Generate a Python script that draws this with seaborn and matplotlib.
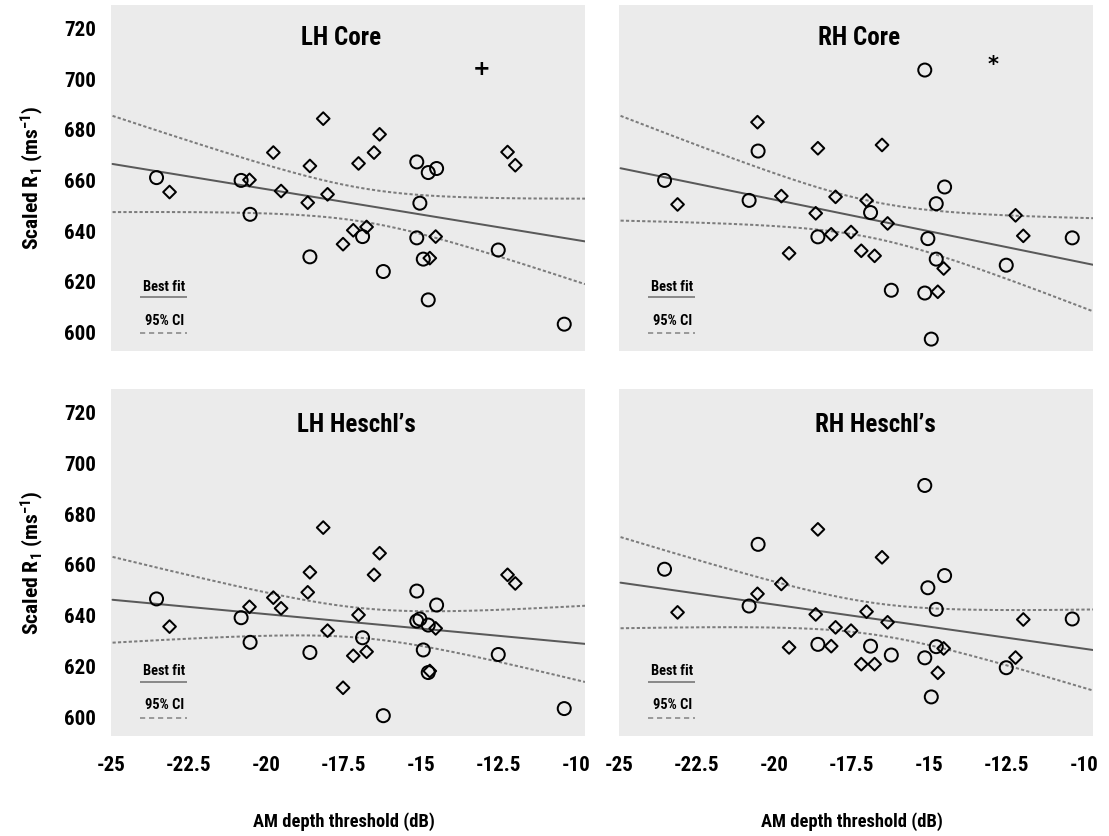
import numpy as np
import pandas as pd
import matplotlib
matplotlib.use("Agg")
import matplotlib.pyplot as plt
from matplotlib import font_manager
import seaborn as sns

# ---------------------------------------------------------------------------
# Data: AM depth threshold (dB) per participant (two participant groups)
# ---------------------------------------------------------------------------
circle_x = [-23.53, -20.80, -20.51, -18.58, -16.88, -16.21, -15.13, -15.13,
            -15.03, -14.92, -14.76, -14.76, -14.49, -12.50, -10.37]
diamond_x = [-23.11, -20.53, -19.76, -19.51, -18.65, -18.58, -18.15, -18.01,
             -17.51, -17.18, -17.01, -16.75, -16.51, -16.33, -14.71, -14.52,
             -12.20, -11.95]

# Scaled R1 (ms^-1) per region, same participant order as above
lh_core_circle = [661.1, 660.0, 646.6, 629.8, 637.8, 624.0, 667.3, 637.3,
                  651.0, 628.9, 663.1, 612.8, 664.7, 632.5, 603.2]
lh_core_diamond = [655.4, 660.2, 671.0, 655.8, 651.2, 665.7, 684.4, 654.5,
                   634.8, 640.3, 666.7, 641.6, 671.0, 678.2, 629.3, 637.8,
                   671.2, 666.0]

rh_core_circle = [660.0, 652.1, 671.6, 637.7, 647.3, 616.6, 703.6, 615.5,
                  637.0, 597.3, 650.8, 628.9, 657.4, 626.5, 637.3]
rh_core_diamond = [650.5, 683.0, 653.8, 631.2, 647.0, 672.7, 638.7, 653.5,
                   639.6, 632.2, 652.1, 630.2, 674.0, 643.0, 616.0, 625.2,
                   646.2, 638.1]

lh_heschl_circle = [646.6, 639.2, 629.5, 625.5, 631.3, 600.6, 649.7, 637.9,
                    638.7, 626.5, 636.3, 617.6, 644.2, 624.7, 603.4]
lh_heschl_diamond = [635.7, 643.5, 647.1, 642.9, 649.2, 657.1, 674.7, 634.1,
                     611.6, 624.2, 640.3, 625.8, 656.1, 664.6, 618.2, 635.0,
                     656.1, 652.7]

rh_heschl_circle = [658.3, 643.8, 668.1, 628.7, 628.0, 624.5, 691.3, 623.4,
                    651.0, 608.0, 642.5, 627.8, 655.8, 619.5, 638.7]
rh_heschl_diamond = [641.3, 648.6, 652.5, 627.5, 640.5, 674.0, 628.0, 635.4,
                     634.1, 620.9, 641.6, 620.9, 663.0, 637.4, 617.5, 627.1,
                     623.5, 638.5]

region_names = ["LH Core", "RH Core", "LH Heschl\u2019s", "RH Heschl\u2019s"]
circle_values = [lh_core_circle, rh_core_circle, lh_heschl_circle, rh_heschl_circle]
diamond_values = [lh_core_diamond, rh_core_diamond, lh_heschl_diamond, rh_heschl_diamond]

# significance symbols (symbol, x, y) per region
sig_marks = {"LH Core": ("+", -13.04, 704.2), "RH Core": ("*", -12.94, 705.5)}

x_ticks = [-25, -22.5, -20, -17.5, -15, -12.5, -10]
x_tick_labels = ["-25", "-22.5", "-20", "-17.5", "-15", "-12.5", "-10"]
y_ticks = [600, 620, 640, 660, 680, 700, 720]
y_tick_labels = ["600", "620", "640", "660", "680", "700", "720"]

x_label = "AM depth threshold (dB)"
y_label = "Scaled R$_1$ (ms$^{-1}$)"
legend_fit = "Best fit"
legend_ci = "95% CI"

# ---------------------------------------------------------------------------
# Styling
# ---------------------------------------------------------------------------
sns.set_theme(style="dark", rc={"axes.facecolor": "#ebebeb",
                                "figure.facecolor": "white"})

available = {f.name for f in font_manager.fontManager.ttflist}
FONT = None
for cand in ("Liberation Sans Narrow", "Roboto Condensed", "Open Sans Condensed",
             "Liberation Sans", "Roboto"):
    if cand in available:
        FONT = cand
        break
if FONT is None:
    FONT = "DejaVu Sans"
plt.rcParams["font.family"] = [FONT, "DejaVu Sans"]
plt.rcParams["font.weight"] = "bold"
plt.rcParams["mathtext.default"] = "regular"
plt.rcParams["axes.unicode_minus"] = False

W, H = 1109, 836
fig = plt.figure(figsize=(W / 100, H / 100), dpi=100)

# panel boxes in pixels: left, top, width, height
boxes = [(111, 5, 474, 346), (619, 5, 474, 346),
         (111, 389, 474, 347), (619, 389, 474, 347)]
title_xfrac = [0.485, 0.506, 0.518, 0.540]
title_yfrac = [0.905, 0.905, 0.896, 0.896]

XLIM = (-24.95, -9.70)
YLIM = (592.6, 729.3)

FIT_COLOR = "#595959"
CI_COLOR = "#7c7c7c"
PX = 0.72  # points per pixel at 100 dpi


def t_critical(df):
    try:
        from scipy import stats
        return float(stats.t.ppf(0.975, df))
    except Exception:
        return 2.04


def fit_with_band(x, y, grid):
    x = np.asarray(x, float)
    y = np.asarray(y, float)
    n = len(x)
    slope, intercept = np.polyfit(x, y, 1)
    resid = y - (intercept + slope * x)
    s = np.sqrt(np.sum(resid ** 2) / (n - 2))
    sxx = np.sum((x - x.mean()) ** 2)
    se = s * np.sqrt(1.0 / n + (grid - x.mean()) ** 2 / sxx)
    fit = intercept + slope * grid
    t = t_critical(n - 2)
    return fit, fit - t * se, fit + t * se


grid = np.linspace(XLIM[0], XLIM[1], 200)

for i, name in enumerate(region_names):
    l, t, w, h = boxes[i]
    ax = fig.add_axes([l / W, 1 - (t + h) / H, w / W, h / H])

    df = pd.DataFrame({
        "threshold": circle_x + diamond_x,
        "r1": circle_values[i] + diamond_values[i],
        "group": ["circle"] * len(circle_x) + ["diamond"] * len(diamond_x),
    })

    fit, lo, hi = fit_with_band(df["threshold"], df["r1"], grid)
    band = pd.DataFrame({"x": grid, "fit": fit, "lo": lo, "hi": hi})
    sns.lineplot(data=band, x="x", y="fit", ax=ax, color=FIT_COLOR,
                 lw=2 * PX, zorder=2)
    for col in ("lo", "hi"):
        sns.lineplot(data=band, x="x", y=col, ax=ax, color=CI_COLOR,
                     lw=2 * PX, zorder=2)
        ax.lines[-1].set_dashes((1.6, 1.1))

    circ = df[df["group"] == "circle"]
    diam = df[df["group"] == "diamond"]
    sns.scatterplot(data=circ, x="threshold", y="r1", ax=ax, marker="o",
                    s=(13 * PX) ** 2, facecolor="none", edgecolor="black",
                    linewidth=2 * PX, zorder=3)
    sns.scatterplot(data=diam, x="threshold", y="r1", ax=ax, marker="D",
                    s=(9 * PX) ** 2, facecolor="none", edgecolor="black",
                    linewidth=2 * PX, zorder=3)

    if name in sig_marks:
        sym, sx, sy = sig_marks[name]
        ax.text(sx, sy, sym, ha="center", va="center", fontsize=21 * PX,
                fontweight="bold", color="black", family=["DejaVu Sans"])

    ax.text(title_xfrac[i], title_yfrac[i], name, transform=ax.transAxes,
            ha="center", va="center", fontsize=25 * PX, fontweight="bold",
            color="black")

    # small key in the lower-left corner
    ax.text(0.113, 0.186, legend_fit, transform=ax.transAxes, ha="center",
            va="center", fontsize=14.5 * PX, fontweight="bold", color="black")
    ax.plot([0.061, 0.160], [0.157, 0.157], transform=ax.transAxes,
            color="#8a8a8a", lw=2 * PX, solid_capstyle="butt")
    ax.text(0.113, 0.088, legend_ci, transform=ax.transAxes, ha="center",
            va="center", fontsize=14.5 * PX, fontweight="bold", color="black")
    ax.plot([0.061, 0.160], [0.053, 0.053], transform=ax.transAxes,
            color="#9a9a9a", lw=2 * PX, dashes=(2.6, 1.9))

    ax.set_xlim(*XLIM)
    ax.set_ylim(*YLIM)
    ax.set_xticks(x_ticks)
    ax.set_yticks(y_ticks)
    ax.grid(False)
    for sp in ax.spines.values():
        sp.set_visible(False)
    ax.set_xlabel("")
    ax.set_ylabel("")

    if i >= 2:
        ax.set_xticklabels(x_tick_labels)
    else:
        ax.set_xticklabels([])
    if i % 2 == 0:
        ax.set_yticklabels(y_tick_labels)
    else:
        ax.set_yticklabels([])
    ax.tick_params(axis="x", length=0, pad=20 * PX, labelsize=21 * PX,
                   labelcolor="black")
    ax.tick_params(axis="y", length=0, pad=15 * PX, labelsize=21 * PX,
                   labelcolor="black")
    for lab in ax.get_xticklabels() + ax.get_yticklabels():
        lab.set_fontweight("bold")

    if i >= 2:
        fig.text((l + w / 2 - 4) / W, 1 - 822 / H, x_label, ha="center",
                 va="center", fontsize=18.5 * PX, fontweight="bold",
                 color="black")
    if i % 2 == 0:
        fig.text(32 / W, 1 - (t + h / 2) / H, y_label, ha="center",
                 va="center", rotation=90, fontsize=21.5 * PX,
                 fontweight="bold", color="black")

fig.savefig("out.png", dpi=100, facecolor="white")
